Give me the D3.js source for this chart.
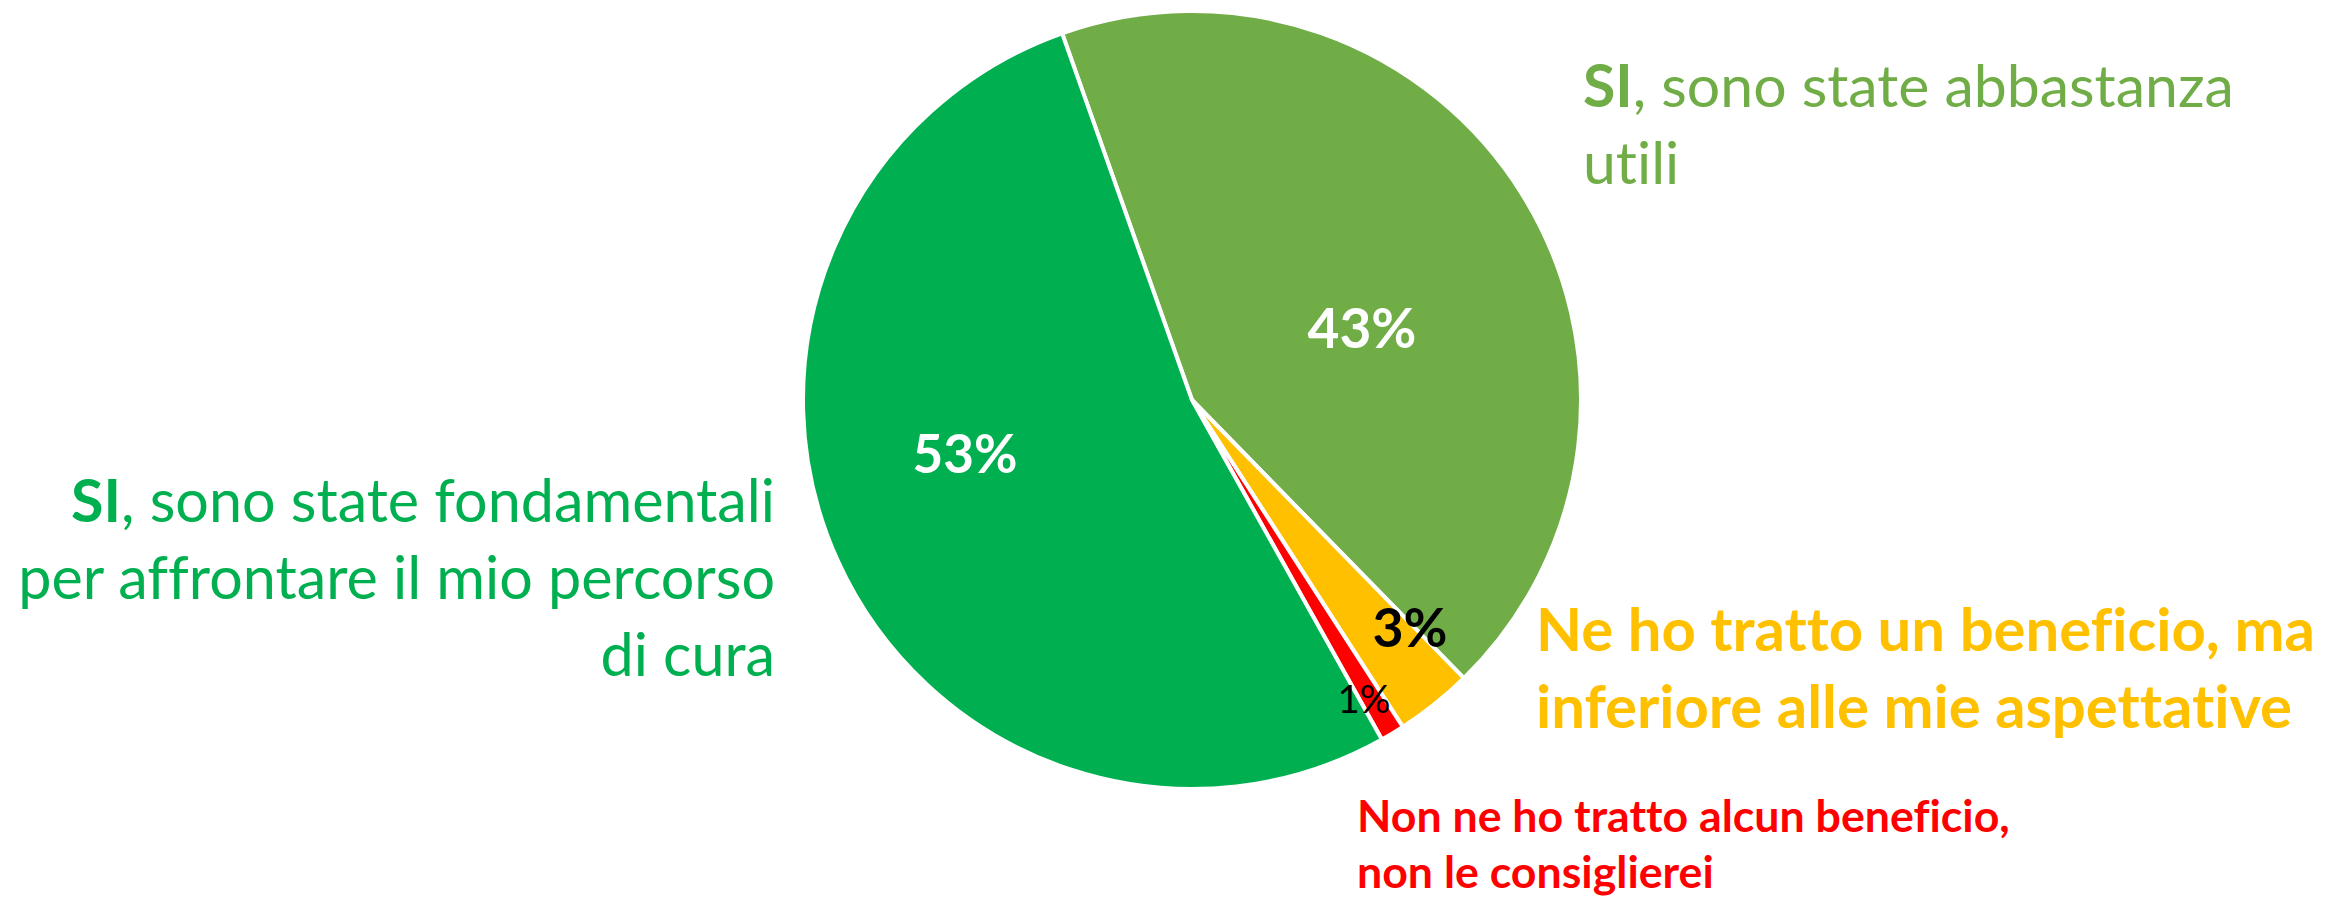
<!DOCTYPE html>
<html>
<head>
<meta charset="utf-8">
<script src="https://cdn.jsdelivr.net/npm/d3@7"></script>
<style>
  html, body { margin: 0; padding: 0; background: #ffffff; }
  svg { display: block; }
  text { font-family: Lato, "Open Sans", sans-serif; font-variant-ligatures: none; font-feature-settings: "liga" 0, "clig" 0; }
</style>
</head>
<body>
<svg id="chart" width="2331" height="901"></svg>
<script>
// ---- data ----
const categories = [
  "SI, sono state abbastanza utili",
  "Ne ho tratto un beneficio, ma inferiore alle mie aspettative",
  "Non ne ho tratto alcun beneficio, non le consiglierei",
  "SI, sono state fondamentali per affrontare il mio percorso di cura"
];
const values = [43.1, 3.2, 1.0, 52.7];
const valueLabels = ["43%", "3%", "1%", "53%"];
const colors = ["#70AD47", "#FFC000", "#FF0000", "#00B050"];

// ---- layout ----
const W = 2331, H = 901;
const cx = 1192, cy = 400, R = 389;
const startDeg = -19.5;

const svg = d3.select("#chart");
const g = svg.append("g").attr("transform", `translate(${cx},${cy})`);

const pie = d3.pie().sort(null).value(d => d)
  .startAngle(startDeg * Math.PI / 180)
  .endAngle(startDeg * Math.PI / 180 + 2 * Math.PI);
const arc = d3.arc().innerRadius(0).outerRadius(R);
const arcs = pie(values);

g.selectAll("path.slice").data(arcs).enter().append("path")
  .attr("class", "slice")
  .attr("d", arc)
  .attr("fill", (d, i) => colors[i])
  .attr("stroke", "#ffffff")
  .attr("stroke-width", 4)
  .attr("stroke-linejoin", "round");

// fit a text element's width to a target by adjusting font size
function fitWidth(sel, target) {
  const node = sel.node();
  const fs = parseFloat(sel.attr("font-size"));
  const w = node.getBBox().width;
  if (w > 0) sel.attr("font-size", fs * target / w);
  return sel;
}

// value labels (absolute positions: center x, baseline y, target width)
const valueLabelLayout = [
  { x: 1362, y: 348, w: 109, fill: "#ffffff", weight: 700 },
  { x: 1410, y: 647, w: 75, fill: "#000000", weight: 700 },
  { x: 1364, y: 713, w: 53, fill: "#000000", weight: 400 },
  { x: 965, y: 473, w: 105, fill: "#ffffff", weight: 700 }
];
valueLabels.forEach((t, i) => {
  const L = valueLabelLayout[i];
  const el = svg.append("text")
    .attr("x", L.x).attr("y", L.y)
    .attr("text-anchor", "middle")
    .attr("font-size", 56)
    .attr("font-weight", L.weight)
    .attr("fill", L.fill)
    .text(t);
  fitWidth(el, L.w);
});

// category labels
const catLabelLayout = [
  { anchor: "start", x: 1583, y0: 107, dy: 77, fitLine: 0, fitW: 651,
    lines: [[["SI", 700], [", sono state abbastanza", 400]], [["utili", 400]]] },
  { anchor: "start", x: 1536, y0: 651, dy: 77, fitLine: 0, fitW: 779,
    lines: [[["Ne ho tratto un beneficio, ma", 700]], [["inferiore alle mie aspettative", 700]]] },
  { anchor: "start", x: 1357, y0: 832, dy: 56, fitLine: 0, fitW: 653,
    lines: [[["Non ne ho tratto alcun beneficio,", 700]], [["non le consiglierei", 700]]] },
  { anchor: "end", x: 775, y0: 522, dy: 77, fitLine: 1, fitW: 757,
    lines: [[["SI", 700], [", sono state fondamentali", 400]], [["per affrontare il mio percorso", 400]], [["di cura", 400]]] }
];

catLabelLayout.forEach((L, i) => {
  const base = 56;
  const texts = L.lines.map((parts, j) => {
    const t = svg.append("text")
      .attr("x", L.x).attr("y", L.y0 + j * L.dy)
      .attr("text-anchor", L.anchor)
      .attr("font-size", base)
      .attr("fill", colors[i]);
    parts.forEach(p => t.append("tspan").attr("font-weight", p[1]).text(p[0]));
    return t;
  });
  const w = texts[L.fitLine].node().getBBox().width;
  const fs = base * L.fitW / w;
  texts.forEach(t => t.attr("font-size", fs));
});
</script>
</body>
</html>
